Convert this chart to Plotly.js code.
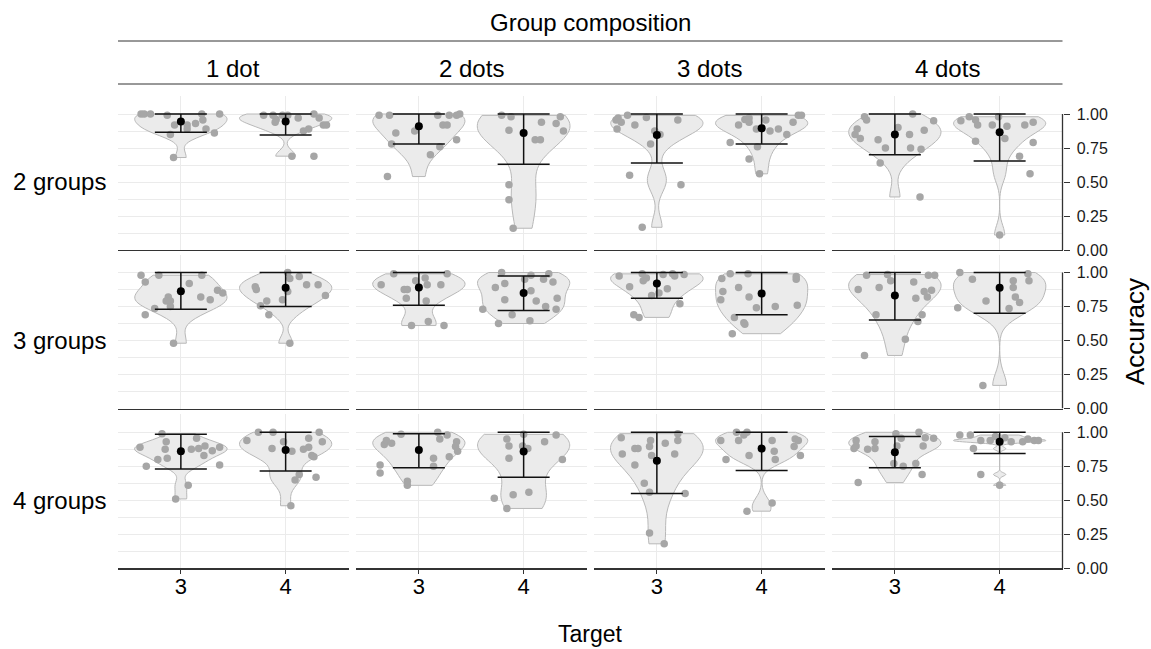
<!DOCTYPE html>
<html><head><meta charset="utf-8">
<script src="https://cdn.plot.ly/plotly-3.0.1.min.js"></script>
<style>html,body{margin:0;padding:0;background:#fff}#chart{width:1151px;height:649px}</style>
</head><body><div id="chart"></div>
<script>
// ---- data ----
const targets = [3, 4];
const rowLabels = ['2 groups', '3 groups', '4 groups'];
const colLabels = ['1 dot', '2 dots', '3 dots', '4 dots'];
const yTickVals = [0, 0.25, 0.5, 0.75, 1];
const yTickText = ['0.00', '0.25', '0.50', '0.75', '1.00'];

// accuracy values of individual participants, and their horizontal jitter
const g2_d1_t3 = [1.0,1.0,1.0,0.99,1.0,1.0,0.956,0.93,0.92,0.89,0.92,0.85,0.89,0.86,0.68];
const g2_d1_t3_jit = [-0.38,-0.35,-0.29,-0.13,0.20,0.37,0.21,0.14,0.06,0.06,-0.06,-0.10,0.24,0.32,-0.07];
const g2_d1_t4 = [0.99,0.99,0.96,0.94,0.99,0.99,0.97,1.0,0.97,0.92,0.92,0.875,0.89,0.69,0.69];
const g2_d1_t4_jit = [-0.21,-0.12,-0.09,-0.10,-0.03,0.02,0.12,0.27,0.32,0.36,0.39,0.17,0.22,0.06,0.27];
const g2_d2_t3 = [0.99,0.99,0.99,0.99,0.99,1.0,0.92,0.92,0.86,0.875,0.78,0.76,0.81,0.70,0.54];
const g2_d2_t3_jit = [-0.38,-0.28,0.18,0.29,0.36,0.39,0.23,0.27,-0.22,-0.04,-0.26,0.20,0.36,0.11,-0.30];
const g2_d2_t4 = [0.99,0.98,0.88,0.94,0.98,0.93,0.875,0.81,0.81,0.48,0.37,0.16];
const g2_d2_t4_jit = [-0.21,-0.12,-0.14,0.17,0.35,0.31,0.38,0.11,0.16,-0.14,-0.14,-0.10];
const g2_d3_t3 = [0.956,0.97,0.94,0.99,0.89,0.92,0.975,0.956,0.875,0.85,0.78,0.55,0.48,0.167];
const g2_d3_t3_jit = [-0.39,-0.37,-0.34,-0.28,-0.38,-0.21,-0.10,0.20,-0.02,0.03,-0.06,-0.26,0.23,-0.14];
const g2_d3_t4 = [0.92,0.96,0.97,0.94,0.956,0.89,0.875,0.89,0.94,0.99,0.99,0.85,0.79,0.76,0.67,0.56];
const g2_d3_t4_jit = [-0.22,-0.16,-0.12,-0.12,0.04,-0.05,0.08,0.16,0.30,0.35,0.38,0.24,-0.30,-0.04,-0.12,-0.02];
const g2_d4_t3 = [0.98,0.956,0.89,0.85,0.82,0.90,1.0,0.95,0.88,0.85,0.81,0.75,0.75,0.74,0.64,0.39];
const g2_d4_t3_jit = [-0.29,-0.27,-0.36,-0.38,-0.33,0.03,0.17,0.37,0.28,0.14,-0.16,-0.09,0.15,0.25,-0.14,0.24];
const g2_d4_t4 = [0.95,0.98,0.956,0.92,0.92,0.98,0.91,0.92,0.94,0.80,0.82,0.79,0.69,0.56,0.11];
const g2_d4_t4_jit = [-0.37,-0.29,-0.23,-0.21,-0.07,-0.01,0.07,0.24,0.32,-0.23,0.05,0.32,0.19,0.29,0.00];

const g3_d1_t3 = [0.98,0.93,0.98,0.98,0.92,0.87,0.85,0.82,0.80,0.82,0.79,0.79,0.75,0.735,0.69,0.48];
const g3_d1_t3_jit = [-0.38,-0.34,-0.21,0.20,0.08,0.35,0.40,0.19,0.28,-0.12,-0.14,-0.10,-0.10,-0.25,-0.34,-0.07];
const g3_d1_t4 = [1.0,0.956,0.97,0.91,0.91,0.83,0.895,0.875,0.79,0.755,0.69,0.80,0.86,0.48];
const g3_d1_t4_jit = [0.02,0.04,0.13,0.20,0.31,0.38,-0.29,-0.28,-0.18,-0.24,-0.16,-0.03,0.02,0.04];
const g3_d2_t3 = [0.99,0.91,0.94,0.96,0.91,0.91,0.99,0.875,0.875,0.81,0.79,0.61,0.64,0.61];
const g3_d2_t3_jit = [-0.24,-0.36,-0.03,0.06,0.08,0.21,0.27,-0.14,-0.11,-0.12,0.07,-0.07,0.09,0.24];
const g3_d2_t4 = [1.0,0.92,0.89,0.95,0.98,0.95,0.99,0.93,0.865,0.80,0.79,0.75,0.81,0.73,0.69,0.73,0.625,0.645];
const g3_d2_t4_jit = [-0.21,-0.18,-0.27,0.01,0.07,0.19,0.24,0.28,0.07,-0.18,0.12,0.21,0.32,0.31,-0.11,-0.39,-0.24,0.06];
const g3_d3_t3 = [0.975,0.99,0.94,0.96,0.985,0.99,0.975,0.985,0.895,0.88,0.85,0.83,0.77,0.69,0.67];
const g3_d3_t3_jit = [-0.36,-0.14,-0.13,-0.10,0.06,0.15,0.17,0.26,-0.26,0.10,0.02,-0.05,0.22,-0.22,-0.17];
const g3_d3_t4 = [0.99,0.99,0.956,0.89,0.86,0.80,0.82,0.74,0.75,0.97,0.95,0.76,0.67,0.63,0.62,0.55];
const g3_d3_t4_jit = [-0.30,-0.13,-0.38,-0.22,-0.37,-0.39,-0.12,-0.05,0.13,0.33,0.33,0.34,-0.26,-0.17,-0.16,-0.28];
const g3_d4_t3 = [0.98,0.985,0.94,0.875,0.89,0.93,0.98,0.98,0.87,0.86,0.82,0.81,0.69,0.69,0.64,0.51,0.39];
const g3_d4_t3_jit = [-0.27,-0.07,-0.04,-0.35,-0.15,0.18,0.32,0.38,0.35,0.28,0.31,0.20,-0.18,0.26,0.22,0.10,-0.29];
const g3_d4_t4 = [1.0,0.95,0.99,0.94,0.89,0.94,0.82,0.78,0.79,0.735,0.74,0.17];
const g3_d4_t4_jit = [-0.38,-0.26,0.27,0.13,0.13,0.28,0.15,0.19,-0.13,0.09,-0.40,-0.16];

const g4_d1_t3 = [0.99,0.93,0.89,0.875,0.956,0.875,0.88,0.90,0.865,0.89,0.83,0.81,0.80,0.75,0.76,0.61,0.51];
const g4_d1_t3_jit = [-0.18,-0.14,-0.39,-0.15,0.15,0.10,0.17,0.23,0.30,0.37,0.22,-0.13,-0.22,-0.33,0.37,0.07,-0.05];
const g4_d1_t4 = [0.94,1.0,1.0,1.0,0.93,0.956,0.93,0.88,0.86,0.875,0.89,0.83,0.82,0.69,0.65,0.67,0.46];
const g4_d1_t4_jit = [-0.37,-0.26,-0.12,0.32,0.35,0.22,-0.02,-0.13,0.06,0.17,0.22,0.25,0.27,0.13,0.09,0.29,0.05];
const g4_d2_t3 = [0.91,0.94,0.92,0.985,1.0,0.95,0.98,0.93,0.895,0.86,0.82,0.81,0.75,0.76,0.70,0.64,0.61];
const g4_d2_t3_jit = [-0.33,-0.31,-0.26,-0.17,0.18,0.20,0.27,0.36,0.35,0.37,0.29,0.14,0.14,-0.37,-0.37,-0.11,-0.11];
const g4_d2_t4 = [0.985,0.95,0.90,0.90,0.88,0.93,0.98,0.81,0.80,0.54,0.56,0.515,0.44];
const g4_d2_t4_jit = [0.0,-0.16,-0.14,-0.01,0.04,0.20,0.31,-0.14,0.37,-0.10,0.05,-0.28,-0.16];
const g4_d3_t3 = [0.96,0.84,0.88,0.88,0.94,0.895,0.83,0.92,0.99,0.94,0.84,0.76,0.625,0.56,0.55,0.26,0.18];
const g4_d3_t3_jit = [-0.34,-0.33,-0.21,-0.18,-0.06,-0.07,-0.05,0.08,0.20,0.20,0.17,-0.21,-0.12,-0.07,0.27,-0.07,0.07];
const g4_d3_t4 = [0.94,1.0,0.94,0.98,1.0,0.94,0.95,0.94,0.895,0.86,0.80,0.83,0.83,0.80,0.48,0.42];
const g4_d3_t4_jit = [-0.39,-0.24,-0.22,-0.17,-0.14,0.10,0.32,0.35,0.31,0.12,0.13,-0.12,0.37,-0.34,0.10,-0.14];
const g4_d4_t3 = [0.94,0.88,0.90,0.875,0.93,0.88,0.99,0.956,0.90,1.0,0.96,0.956,0.90,0.77,0.77,0.75,0.69,0.63];
const g4_d4_t3_jit = [-0.37,-0.39,-0.37,-0.26,-0.19,-0.19,0.01,0.06,0.02,0.23,0.29,0.37,0.27,0.20,-0.01,0.08,0.26,-0.35];
const g4_d4_t4 = [0.98,0.98,0.94,0.94,0.97,0.94,0.96,0.93,0.93,0.95,0.94,0.94,0.88,0.69,0.61];
const g4_d4_t4_jit = [-0.38,-0.28,-0.18,-0.09,-0.04,0.0,0.05,0.11,0.22,0.27,0.33,0.37,-0.25,-0.18,0.0];

// mean and error-bar ends, order: 1dot t3, 1dot t4, 2dots t3, 2dots t4, 3dots t3, 3dots t4, 4dots t3, 4dots t4
const mean_g2  = [0.944,0.944,0.91,0.86,0.846,0.895,0.85,0.865];
const lower_g2 = [0.865,0.846,0.78,0.63,0.64,0.78,0.70,0.655];
const upper_g2 = [1,1,1,1,1,1,1,1];
const mean_g3  = [0.863,0.887,0.89,0.85,0.92,0.846,0.83,0.887];
const lower_g3 = [0.73,0.75,0.76,0.72,0.81,0.69,0.65,0.70];
const upper_g3 = [1,1,1,0.975,1,1,1,1];
const mean_g4  = [0.86,0.87,0.87,0.858,0.79,0.88,0.853,0.93];
const lower_g4 = [0.73,0.715,0.74,0.67,0.55,0.72,0.74,0.845];
const upper_g4 = [0.985,1,0.99,1,1,1,0.97,1];

// ---- assembly ----
const points = [
  [[g2_d1_t3,g2_d1_t3_jit,g2_d1_t4,g2_d1_t4_jit],[g2_d2_t3,g2_d2_t3_jit,g2_d2_t4,g2_d2_t4_jit],[g2_d3_t3,g2_d3_t3_jit,g2_d3_t4,g2_d3_t4_jit],[g2_d4_t3,g2_d4_t3_jit,g2_d4_t4,g2_d4_t4_jit]],
  [[g3_d1_t3,g3_d1_t3_jit,g3_d1_t4,g3_d1_t4_jit],[g3_d2_t3,g3_d2_t3_jit,g3_d2_t4,g3_d2_t4_jit],[g3_d3_t3,g3_d3_t3_jit,g3_d3_t4,g3_d3_t4_jit],[g3_d4_t3,g3_d4_t3_jit,g3_d4_t4,g3_d4_t4_jit]],
  [[g4_d1_t3,g4_d1_t3_jit,g4_d1_t4,g4_d1_t4_jit],[g4_d2_t3,g4_d2_t3_jit,g4_d2_t4,g4_d2_t4_jit],[g4_d3_t3,g4_d3_t3_jit,g4_d3_t4,g4_d3_t4_jit],[g4_d4_t3,g4_d4_t3_jit,g4_d4_t4,g4_d4_t4_jit]]
];
const means = [mean_g2, mean_g3, mean_g4];
const lowers = [lower_g2, lower_g3, lower_g4];
const uppers = [upper_g2, upper_g3, upper_g4];

const W = 1151, H = 649;
const colLeft = [118, 356, 594, 832], colW = 230.5;
const rowBottom = [250, 408.5, 568.3], rowH = 154, pxPerUnit = 136;
const FONT = 'Liberation Sans, Arial, Helvetica, sans-serif';
const gridC = '#ebebeb', axisC = '#333333';

const traces = [];
const layout = {
  width: W, height: H, margin: {l: 0, r: 0, t: 0, b: 0},
  paper_bgcolor: '#fff', plot_bgcolor: 'rgba(0,0,0,0)',
  showlegend: false, violinmode: 'overlay',
  font: {family: FONT, color: '#000'},
  annotations: [], shapes: []
};

for (let r = 0; r < 3; r++) {
  for (let c = 0; c < 4; c++) {
    const n = r * 4 + c + 1;
    const xa = 'x' + (n === 1 ? '' : n), ya = 'y' + (n === 1 ? '' : n);
    layout['xaxis' + (n === 1 ? '' : n)] = {
      domain: [colLeft[c] / W, (colLeft[c] + colW) / W], anchor: ya,
      range: [2.4, 4.6], tickvals: targets, ticktext: targets.map(String),
      showticklabels: r === 2, ticks: r === 2 ? 'outside' : '', ticklen: 4, tickwidth: 1, tickcolor: axisC,
      ticklabelstandoff: -6,
      tickfont: {size: 22, color: '#000', family: FONT},
      showline: true, linecolor: axisC, linewidth: 1.3,
      showgrid: true, gridcolor: gridC, gridwidth: 1, zeroline: false, fixedrange: true
    };
    layout['yaxis' + (n === 1 ? '' : n)] = {
      domain: [1 - rowBottom[r] / H, 1 - (rowBottom[r] - rowH) / H], anchor: xa,
      range: [0, rowH / pxPerUnit], side: 'right',
      tickvals: yTickVals, ticktext: yTickText,
      showticklabels: c === 3, ticks: c === 3 ? 'outside' : '', ticklen: 6, tickwidth: 1, tickcolor: axisC,
      ticklabelstandoff: 4,
      tickfont: {size: 16, color: '#1a1a1a', family: FONT},
      showline: false, showgrid: true, gridcolor: gridC, gridwidth: 1, zeroline: false,
      minor: {tickvals: [0.125, 0.375, 0.625, 0.875], showgrid: true, gridcolor: gridC, gridwidth: 1, ticks: ''},
      fixedrange: true
    };
    if (c === 3) {
      layout.shapes.push({type: 'line', xref: xa + ' domain', yref: ya, x0: 1, x1: 1, y0: 0, y1: 1,
        line: {color: axisC, width: 1.3}});
    }
    const set = points[r][c];
    for (let k = 0; k < 2; k++) {
      const vals = set[2 * k], t = targets[k];
      traces.push({type: 'violin', x0: t, y: vals, xaxis: xa, yaxis: ya,
        width: 0.88, scalemode: 'width', spanmode: 'hard', points: false,
        fillcolor: '#ebebeb', line: {color: '#b8b8b8', width: 1},
        box: {visible: false}, meanline: {visible: false}, hoverinfo: 'skip'});
    }
    for (let k = 0; k < 2; k++) {
      const vals = set[2 * k], jit = set[2 * k + 1], t = targets[k];
      traces.push({type: 'scatter', mode: 'markers', xaxis: xa, yaxis: ya,
        x: vals.map((v, i) => t + jit[i]), y: vals,
        marker: {color: '#a6a6a6', size: 7.5}, hoverinfo: 'skip'});
    }
    const m = [means[r][2 * c], means[r][2 * c + 1]];
    const lo = [lowers[r][2 * c], lowers[r][2 * c + 1]];
    const hi = [uppers[r][2 * c], uppers[r][2 * c + 1]];
    traces.push({type: 'scatter', mode: 'markers', xaxis: xa, yaxis: ya,
      x: targets, y: m,
      error_y: {type: 'data', symmetric: false, array: hi.map((h, i) => h - m[i]), arrayminus: lo.map((l, i) => m[i] - l),
        color: '#111', thickness: 1.5, width: 26},
      marker: {color: '#000', size: 8}, hoverinfo: 'skip'});
  }
}

// strip / facet labels
const ann = layout.annotations;
ann.push({text: 'Group composition', xref: 'paper', yref: 'paper', x: (118 + 1062.5) / 2 / W, y: 1 - 22 / H,
  xanchor: 'center', yanchor: 'middle', showarrow: false, font: {size: 24, family: FONT, color: '#000'}});
layout.shapes.push({type: 'line', xref: 'paper', yref: 'paper', x0: 118 / W, x1: 1062.5 / W, y0: 1 - 41 / H, y1: 1 - 41 / H,
  line: {color: axisC, width: 1}});
for (let c = 0; c < 4; c++) {
  ann.push({text: colLabels[c], xref: 'paper', yref: 'paper', x: (colLeft[c] + colW / 2) / W, y: 1 - 68 / H,
    xanchor: 'center', yanchor: 'middle', showarrow: false, font: {size: 24, family: FONT, color: '#000'}});
  layout.shapes.push({type: 'line', xref: 'paper', yref: 'paper', x0: colLeft[c] / W, x1: (colLeft[c] + colW + (c < 3 ? 7.5 : 0)) / W,
    y0: 1 - 84 / H, y1: 1 - 84 / H, line: {color: axisC, width: 1}});
}
for (let r = 0; r < 3; r++) {
  ann.push({text: rowLabels[r], xref: 'paper', yref: 'paper', x: 108 / W, y: 1 - (rowBottom[r] - 0.5 * pxPerUnit) / H,
    xanchor: 'right', yanchor: 'middle', showarrow: false, font: {size: 24, family: FONT, color: '#000'}});
}
ann.push({text: 'Target', xref: 'paper', yref: 'paper', x: (118 + 1062.5) / 2 / W, y: 1 - 634 / H,
  xanchor: 'center', yanchor: 'middle', showarrow: false, font: {size: 23, family: FONT, color: '#000'}});
ann.push({text: 'Accuracy', xref: 'paper', yref: 'paper', x: 1135 / W, y: 1 - 332 / H, textangle: -90,
  xanchor: 'center', yanchor: 'middle', showarrow: false, font: {size: 26, family: FONT, color: '#000'}});

Plotly.newPlot('chart', traces, layout, {staticPlot: true, displayModeBar: false});
</script></body></html>
